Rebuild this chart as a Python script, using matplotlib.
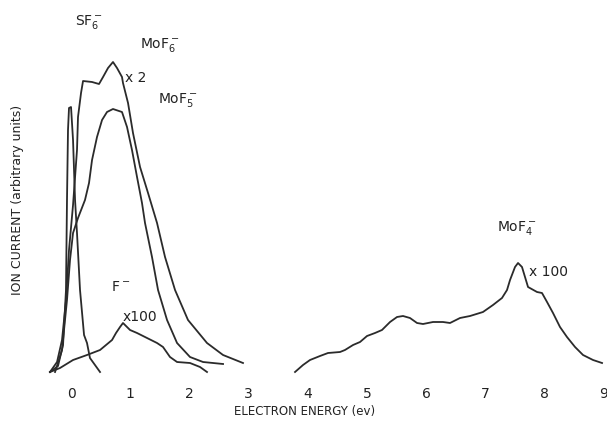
import numpy as np
import matplotlib
matplotlib.use('Agg')
import matplotlib.pyplot as plt

# Curves (energy in eV, ion current in arbitrary units)
sf6_energy = [-0.355, -0.22, -0.135, -0.085, -0.068, -0.051, -0.034, 0.0, 0.034, 0.068,
              0.101, 0.152, 0.22, 0.27, 0.32, 0.49]
sf6_current = [0, 6, 27, 82, 172, 242, 264, 265, 232, 172, 139, 82, 37, 29, 14, 0]

mof6_energy = [-0.355, -0.236, -0.152, -0.084, -0.034, 0.034, 0.101, 0.118, 0.169, 0.203,
               0.355, 0.473, 0.541, 0.625, 0.709, 0.777, 0.861, 0.878, 0.963, 1.047,
               1.166, 1.301, 1.453, 1.588, 1.757, 1.976, 2.297, 2.568, 2.905]
mof6_current = [0, 10, 32, 72, 122, 167, 222, 255, 279, 291, 290, 288, 295, 304, 310, 304,
                295, 289, 269, 239, 205, 179, 149, 115, 82, 52, 29, 17, 9]

mof5_energy = [-0.27, -0.152, -0.068, -0.017, 0.034, 0.118, 0.236, 0.304, 0.355, 0.439,
               0.524, 0.608, 0.709, 0.861, 0.946, 1.030, 1.115, 1.199, 1.25, 1.368,
               1.470, 1.622, 1.791, 2.010, 2.230, 2.568]
mof5_current = [0, 22, 72, 112, 139, 154, 172, 189, 212, 235, 252, 260, 263, 260, 245, 222,
                195, 169, 149, 115, 82, 52, 29, 15, 10, 8]

f_energy = [-0.355, -0.186, 0.034, 0.27, 0.49, 0.693, 0.760, 0.828, 0.878, 0.997, 1.115,
            1.284, 1.453, 1.554, 1.672, 1.791, 2.010, 2.179, 2.297]
f_current = [0, 4, 12, 17, 22, 32, 39, 45, 49, 42, 39, 34, 29, 25, 15, 10, 9, 5, 0]

mof4_energy = [3.784, 3.919, 4.037, 4.206, 4.341, 4.544, 4.628, 4.764, 4.882, 5.0, 5.135,
               5.253, 5.389, 5.507, 5.608, 5.726, 5.845, 5.946, 6.115, 6.284, 6.402, 6.571,
               6.74, 6.959, 7.128, 7.280, 7.365, 7.416, 7.5, 7.551, 7.618, 7.669, 7.720,
               7.872, 7.956, 8.041, 8.142, 8.260, 8.378, 8.514, 8.649, 8.818, 8.970]
mof4_current = [0, 7, 12, 16, 19, 20, 22, 27, 30, 36, 39, 42, 50, 55, 56, 54, 49, 48, 50,
                50, 49, 54, 56, 60, 67, 74, 82, 92, 105, 109, 105, 95, 85, 80, 79, 70, 59,
                45, 35, 25, 17, 12, 9]

xticks = [0, 1, 2, 3, 4, 5, 6, 7, 8, 9]

# label text, energy, current
labels = [
    (r'$\mathregular{SF_6^-}$', 0.30, 350),
    (r'$\mathregular{MoF_6^-}$', 1.50, 327),
    ('x 2', 1.10, 294),
    (r'$\mathregular{MoF_5^-}$', 1.81, 272),
    (r'$\mathregular{F^-}$', 0.83, 85),
    ('x100', 1.17, 55),
    (r'$\mathregular{MoF_4^-}$', 7.53, 144),
    ('x 100', 8.07, 100),
]

line_color = '#2b2b2b'
text_color = '#222222'

fig = plt.figure(figsize=(6.07, 4.22), dpi=100)
ax = fig.add_axes([40 / 607, 50 / 422, 567 / 607, 372 / 422])

for e, c in [(sf6_energy, sf6_current), (mof6_energy, mof6_current),
             (mof5_energy, mof5_current), (f_energy, f_current),
             (mof4_energy, mof4_current)]:
    ax.plot(e, c, color=line_color, lw=1.3, clip_on=False, solid_joinstyle='round')

for txt, xe, yc in labels:
    ax.text(xe, yc, txt, ha='center', va='center', fontsize=10, color=text_color)

ax.set_xlim(-0.524, 9.054)
ax.set_ylim(0, 372)
ax.set_xticks(xticks)
ax.set_xticklabels([str(t) for t in xticks])
ax.tick_params(axis='x', length=0, pad=11, labelsize=10, labelcolor=text_color)
ax.set_yticks([])
for s in ax.spines.values():
    s.set_visible(False)

fig.text(305 / 607, 1 - 412 / 422, 'ELECTRON ENERGY (ev)', ha='center', va='center',
         fontsize=8.5, color=text_color)
fig.text(18 / 607, 1 - 200 / 422, 'ION CURRENT (arbitrary units)', ha='center', va='center',
         rotation=90, fontsize=9, color=text_color)

fig.savefig('out.png', dpi=100)
